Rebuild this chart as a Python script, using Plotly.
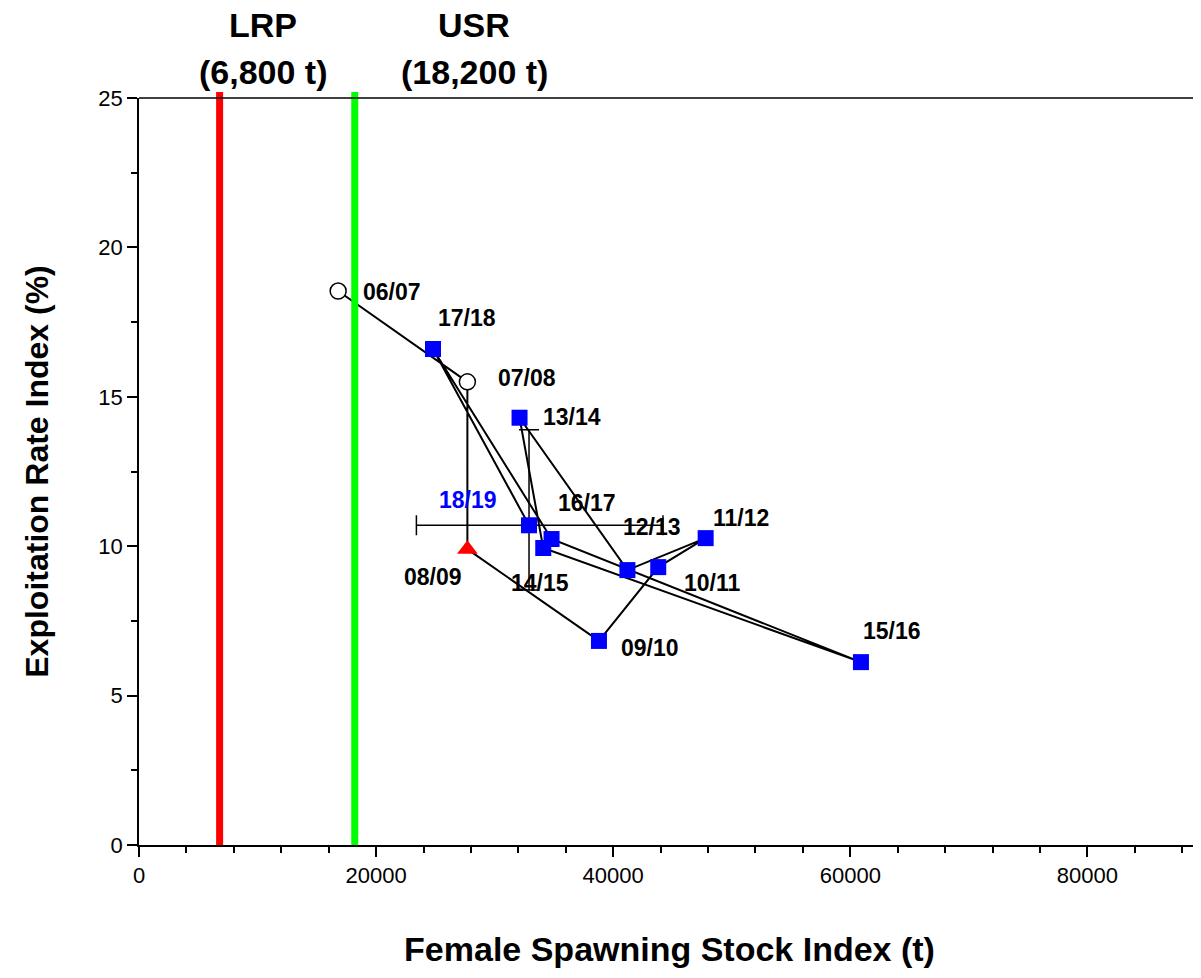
import plotly.graph_objects as go

seasons = ["06/07", "07/08", "08/09", "09/10", "10/11", "11/12", "12/13",
           "13/14", "14/15", "15/16", "16/17", "17/18", "18/19"]
ssb = [16800, 27700, 27700, 38800, 43800, 47800, 41200,
       32100, 34100, 60900, 34800, 24800, 32900]
expl = [18.54, 15.5, 9.9, 6.83, 9.3, 10.27, 9.2,
        14.3, 9.94, 6.12, 10.24, 16.6, 10.7]
# label anchor positions (centre of text)
lab_x = [21300, 32700, 24800, 43100, 48300, 50800, 43300,
         36500, 33800, 63500, 37800, 27700, 27750]
lab_y = [18.51, 15.62, 8.97, 6.59, 8.77, 10.94, 10.64,
         14.32, 8.76, 7.16, 11.44, 17.65, 11.54]
err_x = [23400, 44200]
err_y = [8.53, 13.9]
lrp, usr = 6800, 18200

fig = go.Figure()
fig.add_trace(go.Scatter(x=ssb, y=expl, mode="lines",
                         line=dict(color="black", width=2), hoverinfo="skip"))
# error bars of the latest point
fig.add_trace(go.Scatter(x=[ssb[-1]], y=[expl[-1]], mode="markers",
                         marker=dict(size=1, color="black"),
                         error_x=dict(type="data", symmetric=False,
                                      array=[err_x[1] - ssb[-1]], arrayminus=[ssb[-1] - err_x[0]],
                                      color="black", thickness=1.5, width=10),
                         error_y=dict(type="data", symmetric=False,
                                      array=[err_y[1] - expl[-1]], arrayminus=[expl[-1] - err_y[0]],
                                      color="black", thickness=1.5, width=10)))
fig.add_trace(go.Scatter(x=ssb[:2], y=expl[:2], mode="markers",
                         marker=dict(symbol="circle", size=16, color="white",
                                     line=dict(color="black", width=1.5))))
fig.add_trace(go.Scatter(x=[ssb[2]], y=[expl[2]], mode="markers",
                         marker=dict(symbol="triangle-up", size=18, color="#ff0000")))
fig.add_trace(go.Scatter(x=ssb[3:], y=expl[3:], mode="markers",
                         marker=dict(symbol="square", size=16, color="#0000ff")))

for s, x, y in zip(seasons, lab_x, lab_y):
    fig.add_annotation(x=x, y=y, text="<b>%s</b>" % s, showarrow=False,
                       font=dict(size=23, color="#0000ff" if s == "18/19" else "black"))

for v, c, t, cx in [(lrp, "#ff0000", "LRP", 10500), (usr, "#00ff00", "USR", 28300)]:
    fig.add_shape(type="line", xref="x", yref="paper", x0=v, x1=v, y0=0, y1=1.008,
                  line=dict(color=c, width=7))
    fig.add_annotation(x=cx, xref="x", yref="paper", y=1.0, yanchor="middle",
                       text="<b>%s</b>" % t, showarrow=False,
                       font=dict(size=34, color="black"), yshift=73)
    fig.add_annotation(x=cx, xref="x", yref="paper", y=1.0, yanchor="middle",
                       text="<b>(%s t)</b>" % format(v, ","), showarrow=False,
                       font=dict(size=34, color="black"), yshift=26)

fig.add_shape(type="line", xref="paper", yref="paper", x0=0, x1=1, y0=1, y1=1,
              line=dict(color="black", width=1.5))

fig.update_layout(
    width=1193, height=970, showlegend=False,
    plot_bgcolor="white", paper_bgcolor="white",
    margin=dict(l=131, r=1, t=90, b=133),
    font=dict(family="Liberation Sans, Arial", color="black"),
    xaxis=dict(range=[0, 89500], tickvals=[0, 20000, 40000, 60000, 80000],
               ticktext=["0", "20000", "40000", "60000", "80000"],
               ticks="outside", ticklen=10, tickwidth=1.5, tickcolor="black",
               minor=dict(dtick=4000, ticks="outside", ticklen=6, tickcolor="black"),
               showline=True, linecolor="black", linewidth=1.5, showgrid=False,
               zeroline=False, tickfont=dict(size=22), automargin=False,
               title=dict(text="<b>Female Spawning Stock Index (t)</b>", font=dict(size=34), standoff=50)),
    yaxis=dict(range=[0, 25], dtick=5, ticks="outside", ticklen=10, tickwidth=1.5,
               tickcolor="black",
               minor=dict(dtick=2.5, ticks="outside", ticklen=6, tickcolor="black"),
               showline=True, linecolor="black", linewidth=1.5, showgrid=False,
               zeroline=False, tickfont=dict(size=22), automargin=False,
               title=dict(text="<b>Exploitation Rate Index (%)</b>", font=dict(size=32), standoff=40)),
)
fig.write_html("out.html")
